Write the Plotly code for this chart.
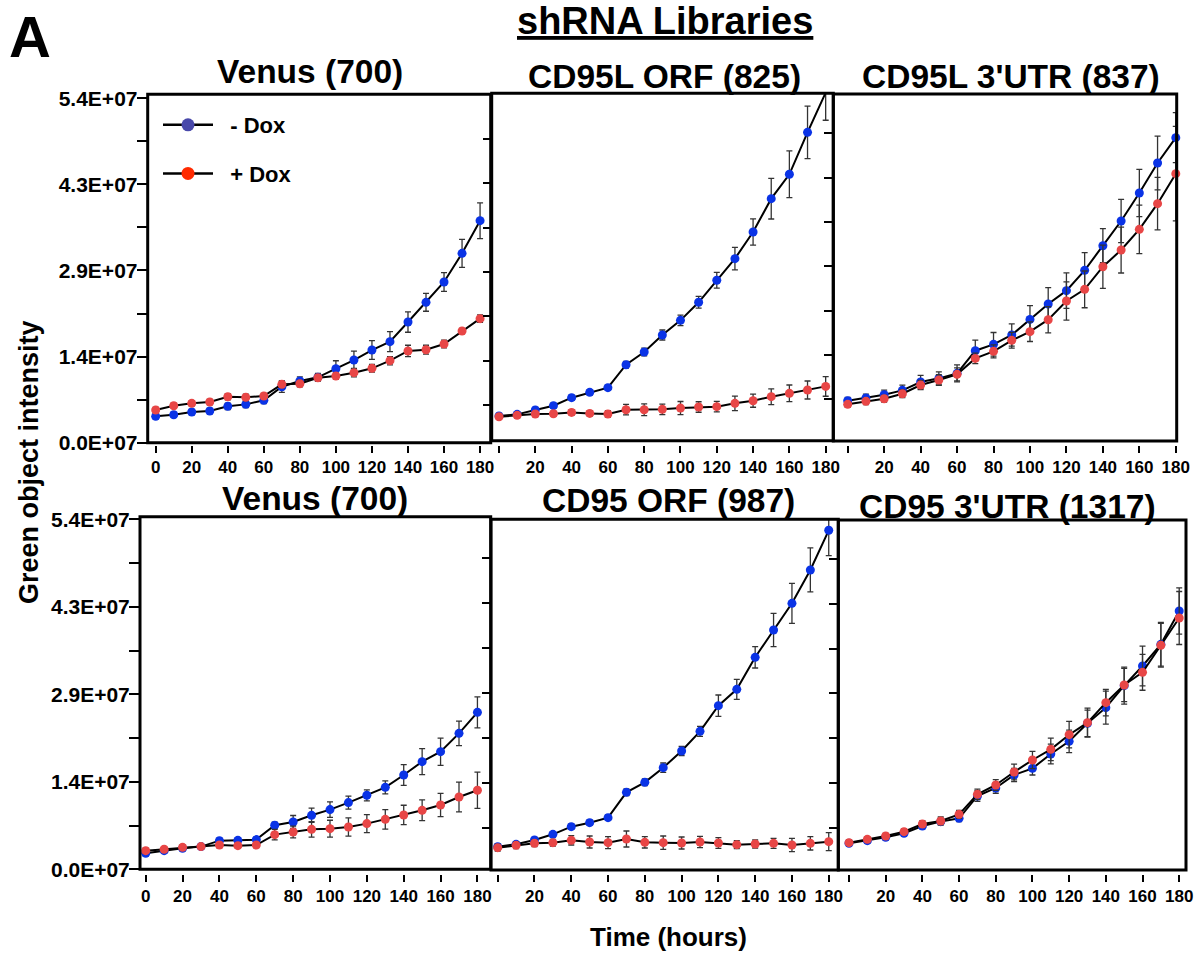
import plotly.graph_objects as go

# ---------------- data (values in units of 1e7) ----------------
time_h = [0, 10, 20, 30, 40, 50, 60, 70, 80, 90, 100, 110, 120, 130, 140, 150, 160, 170, 180]

panel_titles = ["Venus (700)", "CD95L ORF (825)", "CD95L 3'UTR (837)",
                "Venus (700)", "CD95 ORF (987)", "CD95 3'UTR (1317)"]
series_names = ["- Dox", "+ Dox"]

y_tick_labels = ["0.0E+07", "1.4E+07", "2.9E+07", "4.3E+07", "5.4E+07"]
x_tick_labels_full = ["0", "20", "40", "60", "80", "100", "120", "140", "160", "180"]
x_tick_labels_nozero = ["", "20", "40", "60", "80", "100", "120", "140", "160", "180"]

# Panel 1: Venus (700), top
venus_top_minus = [0.413, 0.439, 0.481, 0.497, 0.570, 0.601, 0.664, 0.878, 0.967, 1.025,
                   1.160, 1.296, 1.453, 1.584, 1.892, 2.201, 2.520, 2.969, 3.481]
venus_top_minus_err = [0.04, 0.04, 0.04, 0.04, 0.05, 0.05, 0.05, 0.09, 0.065, 0.06,
                       0.125, 0.14, 0.146, 0.157, 0.16, 0.14, 0.146, 0.22, 0.28]
venus_top_plus = [0.512, 0.580, 0.617, 0.638, 0.721, 0.711, 0.732, 0.915, 0.925, 1.019,
                  1.045, 1.098, 1.166, 1.286, 1.438, 1.458, 1.547, 1.751, 1.945]
venus_top_plus_err = [0.04, 0.04, 0.04, 0.04, 0.05, 0.05, 0.04, 0.05, 0.05, 0.05,
                      0.05, 0.065, 0.06, 0.065, 0.09, 0.07, 0.06, 0.04, 0.06]

# Panel 2: CD95L ORF (825)
cd95l_orf_minus = [0.508, 0.533, 0.599, 0.665, 0.787, 0.868, 0.939, 1.289, 1.482, 1.741,
                   1.964, 2.239, 2.574, 2.904, 3.310, 3.817, 4.188, 4.827, 5.431]
cd95l_orf_minus_err = [0.04, 0.04, 0.04, 0.04, 0.04, 0.04, 0.04, 0.05, 0.06, 0.076,
                       0.08, 0.09, 0.12, 0.17, 0.20, 0.31, 0.355, 0.40, 0.42]
cd95l_orf_plus = [0.497, 0.518, 0.538, 0.543, 0.563, 0.548, 0.538, 0.604, 0.604, 0.609,
                  0.629, 0.645, 0.650, 0.701, 0.741, 0.802, 0.853, 0.904, 0.959]
cd95l_orf_plus_err = [0.04, 0.04, 0.04, 0.04, 0.04, 0.04, 0.05, 0.08, 0.09, 0.08,
                      0.10, 0.08, 0.08, 0.11, 0.10, 0.12, 0.127, 0.137, 0.15]

# Panel 3: CD95L 3'UTR (837)
cd95l_utr_minus = [0.655, 0.695, 0.746, 0.812, 0.939, 0.995, 1.071, 1.416, 1.513, 1.655,
                   1.893, 2.127, 2.330, 2.640, 3.015, 3.391, 3.817, 4.274, 4.660]
cd95l_utr_minus_err = [0.05, 0.06, 0.07, 0.08, 0.10, 0.10, 0.13, 0.16, 0.18, 0.17,
                       0.21, 0.25, 0.27, 0.27, 0.26, 0.33, 0.36, 0.41, 0.38]
cd95l_utr_plus = [0.599, 0.645, 0.685, 0.761, 0.893, 0.970, 1.056, 1.299, 1.406, 1.574,
                  1.706, 1.888, 2.173, 2.350, 2.695, 2.949, 3.264, 3.655, 4.112]
cd95l_utr_plus_err = [0.04, 0.05, 0.05, 0.06, 0.07, 0.08, 0.10, 0.08, 0.10, 0.12,
                      0.15, 0.20, 0.29, 0.28, 0.33, 0.35, 0.37, 0.40, 0.72]

# Panel 4: Venus (700), bottom
venus_bot_minus = [0.247, 0.288, 0.324, 0.350, 0.442, 0.447, 0.458, 0.679, 0.730, 0.833,
                   0.921, 1.029, 1.142, 1.265, 1.455, 1.661, 1.815, 2.098, 2.422]
venus_bot_minus_err = [0.04, 0.04, 0.04, 0.04, 0.04, 0.04, 0.04, 0.05, 0.10, 0.11,
                       0.12, 0.10, 0.085, 0.10, 0.16, 0.20, 0.21, 0.19, 0.24]
venus_bot_plus = [0.288, 0.309, 0.339, 0.350, 0.375, 0.365, 0.375, 0.535, 0.576, 0.617,
                  0.627, 0.653, 0.705, 0.771, 0.838, 0.910, 0.993, 1.116, 1.219]
venus_bot_plus_err = [0.04, 0.04, 0.04, 0.04, 0.04, 0.04, 0.04, 0.08, 0.09, 0.12,
                      0.13, 0.14, 0.14, 0.15, 0.15, 0.16, 0.18, 0.23, 0.28]

# Panel 5: CD95 ORF (987)
cd95_orf_minus = [0.390, 0.425, 0.490, 0.575, 0.690, 0.750, 0.825, 1.205, 1.355, 1.575,
                  1.825, 2.120, 2.505, 2.750, 3.230, 3.640, 4.040, 4.540, 5.135]
cd95_orf_minus_err = [0.04, 0.04, 0.04, 0.04, 0.04, 0.04, 0.04, 0.05, 0.05, 0.07,
                      0.07, 0.075, 0.16, 0.15, 0.16, 0.25, 0.30, 0.33, 0.38]
cd95_orf_plus = [0.375, 0.410, 0.440, 0.450, 0.485, 0.460, 0.450, 0.505, 0.455, 0.450,
                 0.445, 0.460, 0.445, 0.420, 0.430, 0.440, 0.415, 0.440, 0.465]
cd95_orf_plus_err = [0.05, 0.05, 0.05, 0.05, 0.07, 0.09, 0.09, 0.12, 0.085, 0.10,
                     0.09, 0.085, 0.08, 0.06, 0.06, 0.075, 0.10, 0.10, 0.135]

# Panel 6: CD95 3'UTR (1317)
cd95_utr_minus = [0.438, 0.478, 0.528, 0.589, 0.699, 0.765, 0.815, 1.152, 1.273, 1.469,
                  1.569, 1.786, 1.977, 2.249, 2.485, 2.817, 3.114, 3.441, 3.944]
cd95_utr_minus_err = [0.04, 0.04, 0.04, 0.04, 0.04, 0.05, 0.05, 0.08, 0.08, 0.10,
                      0.10, 0.15, 0.17, 0.20, 0.25, 0.28, 0.30, 0.33, 0.35]
cd95_utr_plus = [0.448, 0.498, 0.548, 0.614, 0.729, 0.775, 0.875, 1.177, 1.318, 1.514,
                 1.695, 1.856, 2.077, 2.259, 2.560, 2.827, 3.018, 3.426, 3.838]
cd95_utr_plus_err = [0.04, 0.04, 0.04, 0.04, 0.05, 0.06, 0.06, 0.08, 0.08, 0.12,
                     0.13, 0.17, 0.20, 0.22, 0.20, 0.25, 0.27, 0.33, 0.40]

panel_series = [
    (venus_top_minus, venus_top_minus_err, venus_top_plus, venus_top_plus_err),
    (cd95l_orf_minus, cd95l_orf_minus_err, cd95l_orf_plus, cd95l_orf_plus_err),
    (cd95l_utr_minus, cd95l_utr_minus_err, cd95l_utr_plus, cd95l_utr_plus_err),
    (venus_bot_minus, venus_bot_minus_err, venus_bot_plus, venus_bot_plus_err),
    (cd95_orf_minus, cd95_orf_minus_err, cd95_orf_plus, cd95_orf_plus_err),
    (cd95_utr_minus, cd95_utr_minus_err, cd95_utr_plus, cd95_utr_plus_err),
]
UNIT = 1e7

# ---------------- layout geometry (pixels) ----------------
W, H = 1197, 954
def fx(px):
    return px / W
def fy(py):
    return 1 - py / H

# (left, right, top, bottom) in px ; x range ; y range (1e7 units)
geom = [
    ((147.7, 490.7, 94.3, 442.7), (-4.44, 185.9), (0.0, 5.4625)),
    ((491.7, 833.3, 93.3, 440.7), (-4.02, 184.2), (0.132, 5.421)),
    ((833.3, 1176.7, 94.0, 441.0), (-7.9, 180.5), (0.041, 5.325)),
    ((140.0, 490.7, 516.7, 869.3), (-3.1, 187.2), (0.0, 5.441)),
    ((491.0, 838.3, 519.3, 870.0), (-3.64, 185.2), (0.04, 5.30)),
    ((838.3, 1186.0, 520.0, 870.0), (-5.83, 183.7), (0.035, 5.317)),
]
xtick_y = [444.5, 444.5, 444.5, 873.5, 873.5, 873.5]
title_pos = [(310, 71), (664, 76), (1011, 76), (315, 498), (668, 500), (1007, 506)]

FONT = "Liberation Sans, Arial, Helvetica, sans-serif"
BLUE = "#0a33e6"
RED = "#e84646"
ERR = "#333333"

fig = go.Figure()

for i, (s, g) in enumerate(zip(panel_series, geom)):
    k = "" if i == 0 else str(i + 1)
    minus, minus_e, plus, plus_e = s
    for vals, errs, col, nm in [(minus, minus_e, BLUE, series_names[0]),
                                (plus, plus_e, RED, series_names[1])]:
        fig.add_trace(go.Scatter(
            x=time_h, y=[v * UNIT for v in vals],
            error_y=dict(type="data", array=[e * UNIT for e in errs], color=ERR,
                         thickness=1.3, width=3),
            mode="lines+markers", cliponaxis=False,
            line=dict(color="black", width=2),
            marker=dict(color=col, size=9),
            xaxis="x" + k, yaxis="y" + k, showlegend=False, name=nm))

    (l, r, t, b), xr, yr = g
    ax = dict(domain=[fx(l), fx(r)], range=list(xr), anchor="free",
              position=fy(xtick_y[i]), showgrid=False, zeroline=False, showline=False,
              automargin=False,
              ticks="outside", ticklen=7, tickwidth=2, tickcolor="black",
              tickvals=[0, 20, 40, 60, 80, 100, 120, 140, 160, 180],
              ticktext=x_tick_labels_full if i in (0, 3) else x_tick_labels_nozero,
              tickfont=dict(family=FONT, size=17, color="black", weight="bold"),
              fixedrange=True)
    if i in (0, 3):
        ay = dict(tickvals=[j * 0.675 * UNIT for j in range(9)],
                  ticktext=[y_tick_labels[j // 2] if j % 2 == 0 else "" for j in range(9)],
                  ticklen=10, ticklabelstandoff=-5)
    else:
        ay = dict(tickvals=[j * 0.675 * UNIT for j in range(1, 8)],
                  ticktext=["" for j in range(1, 8)], ticklen=8)
    ay.update(domain=[fy(b), fy(t)], range=[yr[0] * UNIT, yr[1] * UNIT],
              anchor="x" + k, showgrid=False, zeroline=False, showline=False,
              automargin=False,
              ticks="outside", tickwidth=2, tickcolor="black",
              tickfont=dict(family=FONT, size=21, color="black", weight="bold"),
              fixedrange=True)
    fig.layout["xaxis" + k] = ax
    fig.layout["yaxis" + k] = ay

    fig.add_shape(type="rect", xref="x" + k + " domain", yref="y" + k + " domain",
                  x0=0, x1=1, y0=0, y1=1, line=dict(color="black", width=3),
                  fillcolor="rgba(0,0,0,0)", layer="above")

    tx, ty = title_pos[i]
    fig.add_annotation(x=fx(tx), y=fy(ty), xref="paper", yref="paper",
                       text=panel_titles[i], showarrow=False,
                       xanchor="center", yanchor="middle",
                       font=dict(family=FONT, size=33.5, color="black", weight="bold"))

# legend-only traces
for nm, col in [(series_names[0], "#4848aa"), (series_names[1], "#ff2a00")]:
    fig.add_trace(go.Scatter(x=[None], y=[None], mode="lines+markers",
                             name="\u00a0\u00a0" + nm,
                             line=dict(color="black", width=2.5),
                             marker=dict(color=col, size=13),
                             xaxis="x", yaxis="y", legendgroup=nm, showlegend=True))

fig.add_annotation(x=fx(30), y=fy(37), xref="paper", yref="paper", text="A",
                   showarrow=False, xanchor="center", yanchor="middle",
                   font=dict(family=FONT, size=58, color="black", weight="bold"))
fig.add_annotation(x=fx(665), y=fy(21), xref="paper", yref="paper",
                   text="<u>shRNA Libraries</u>", showarrow=False,
                   xanchor="center", yanchor="middle",
                   font=dict(family=FONT, size=38, color="black", weight="bold"))
fig.add_annotation(x=fx(29), y=fy(462), xref="paper", yref="paper",
                   text="Green object intensity", showarrow=False, textangle=-90,
                   xanchor="center", yanchor="middle",
                   font=dict(family=FONT, size=27, color="black", weight="bold"))
fig.add_annotation(x=fx(668), y=fy(937), xref="paper", yref="paper",
                   text="Time (hours)", showarrow=False,
                   xanchor="center", yanchor="middle",
                   font=dict(family=FONT, size=26, color="black", weight="bold"))

fig.update_layout(
    template="none",
    width=W, height=H, margin=dict(l=0, r=0, t=0, b=0, pad=0, autoexpand=False),
    paper_bgcolor="white", plot_bgcolor="white",
    showlegend=True,
    legend=dict(x=fx(158), y=fy(104), xanchor="left", yanchor="top",
                bgcolor="rgba(0,0,0,0)", borderwidth=0,
                font=dict(family=FONT, size=22, color="black", weight="bold"),
                traceorder="grouped", tracegroupgap=17, itemwidth=50),
)

fig.write_html("out.html",
               config={"displayModeBar": False},
               post_script="document.body.style.margin='0px';"
                           "document.body.style.overflow='hidden';")
